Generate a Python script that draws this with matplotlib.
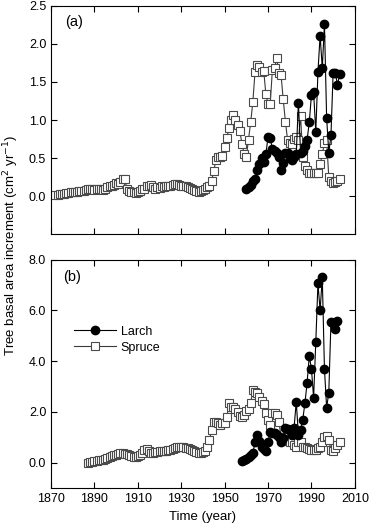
import matplotlib
matplotlib.use('Agg')
import matplotlib.pyplot as plt
import numpy as np

plt.rcParams['font.family'] = ['Liberation Sans', 'DejaVu Sans']
plt.rcParams['font.size'] = 9

# ---- panel (a) ----
spruce_a_start = 1872
spruce_a = [0.02, 0.02, 0.03, 0.03, 0.03, 0.04, 0.04, 0.05, 0.05, 0.05,
            0.06, 0.07, 0.07, 0.07, 0.08, 0.09, 0.10, 0.09, 0.08, 0.09,
            0.10, 0.09, 0.08, 0.10, 0.12, 0.14, 0.13, 0.15, 0.17, 0.16,
            0.19, 0.22, 0.22, 0.09, 0.07, 0.06, 0.05, 0.04, 0.05, 0.07,
            0.09, 0.10, 0.13, 0.14, 0.15, 0.12, 0.10, 0.12, 0.11, 0.13,
            0.12, 0.14, 0.13, 0.14, 0.15, 0.16, 0.16, 0.15, 0.14, 0.14,
            0.13, 0.12, 0.11, 0.10, 0.08, 0.07, 0.06, 0.07, 0.08, 0.10,
            0.12,  # 1942
            0.13, 0.20, 0.33, 0.48, 0.51, 0.52, 0.53, 0.65, 0.77, 0.89,
            1.00, 1.07, 1.00, 0.93, 0.85, 0.69, 0.55, 0.52, 0.74, 0.97,
            1.24, 1.63, 1.72, 1.70, 1.63, 1.65, 1.34, 1.21, 1.21, 1.66,
            1.68, 1.81, 1.62, 1.59, 1.27, 0.98, 0.74, 0.70, 0.68, 0.75,
            0.78, 0.74, 1.05, 0.52, 0.40, 0.35, 0.31, 0.30, 0.30, 0.31,
            0.31, 0.42, 0.55, 0.70, 0.74, 0.25, 0.20, 0.17, 0.18, 0.20,
            0.22]

larch_a_start = 1960
larch_a = [0.09, 0.12, 0.15, 0.20, 0.22, 0.35, 0.42, 0.50, 0.45, 0.55,
           0.78, 0.76, 0.62, 0.60, 0.57, 0.52, 0.34, 0.44, 0.57, 0.57,
           0.50, 0.47, 0.52, 0.55, 1.23, 0.57, 0.60, 0.66, 0.74, 0.97,
           1.33, 1.37, 0.84, 1.63, 2.11, 1.68, 2.26, 1.03, 0.57, 0.80,
           1.62, 1.62, 1.46, 1.60]

# ---- panel (b) ----
spruce_b_start = 1887
spruce_b = [0.00, 0.02, 0.03, 0.05, 0.07, 0.09, 0.10, 0.12, 0.15, 0.18,
            0.22, 0.26, 0.30, 0.32, 0.35, 0.37, 0.38, 0.36, 0.34, 0.30,
            0.26, 0.24, 0.24, 0.27, 0.32, 0.38, 0.50, 0.55, 0.45, 0.38,
            0.38, 0.42, 0.44, 0.46, 0.45, 0.46, 0.48, 0.50, 0.52, 0.55,
            0.58, 0.62, 0.64, 0.63, 0.62, 0.60, 0.58, 0.55, 0.50, 0.45,
            0.42, 0.40, 0.40, 0.42, 0.45, 0.63, 0.90, 1.30, 1.60, 1.62,
            1.55, 1.50, 1.55, 1.57, 1.80, 2.35, 2.20, 2.20, 2.10, 2.00,
            1.85, 1.80, 1.90, 2.05, 2.10, 2.35, 2.85, 2.80, 2.75, 2.60,
            2.45, 2.30, 1.97, 1.70, 1.50, 1.97, 1.95, 1.90, 1.60, 1.03,
            1.00, 0.90, 0.85, 0.80, 0.80, 0.70, 0.63, 0.83, 0.80, 0.63,
            0.62, 0.60, 0.55, 0.52, 0.50, 0.52, 0.60, 0.63, 0.83, 1.00,
            1.07, 0.90, 0.50, 0.45, 0.60, 0.70, 0.80]

larch_b_start = 1958
larch_b = [0.05, 0.10, 0.16, 0.22, 0.30, 0.38, 0.80, 1.10, 0.85, 0.63,
           0.55, 0.48, 0.83, 1.22, 1.18, 1.18, 1.10, 1.03, 0.83, 0.98,
           1.38, 1.34, 1.30, 1.10, 1.38, 2.40, 1.10, 1.30, 1.70, 2.35,
           3.15, 4.20, 3.70, 2.57, 4.74, 7.07, 6.00, 7.30, 3.70, 2.17,
           2.76, 5.56, 5.52, 5.28, 5.60]

xticks = [1870, 1890, 1910, 1930, 1950, 1970, 1990, 2010]

sq = dict(marker='s', ms=5.6, mfc='white', mec='#4a4a4a', mew=0.8,
          color='#3a3a3a', lw=0.8)
ci = dict(marker='o', ms=6, mfc='black', mec='black', color='black', lw=0.8)

fig = plt.figure(figsize=(3.7, 5.3), dpi=100)
ax1 = fig.add_axes([0.138, 0.558, 0.821, 0.431])
ax2 = fig.add_axes([0.138, 0.079, 0.821, 0.431])

yr = np.arange(spruce_a_start, spruce_a_start + len(spruce_a))
ax1.plot(yr, spruce_a, **sq)
yr = np.arange(larch_a_start, larch_a_start + len(larch_a))
ax1.plot(yr, larch_a, **ci)

yr = np.arange(spruce_b_start, spruce_b_start + len(spruce_b))
ax2.plot(yr, spruce_b, label='Spruce', **sq)
yr = np.arange(larch_b_start, larch_b_start + len(larch_b))
ax2.plot(yr, larch_b, label='Larch', **ci)

for ax in (ax1, ax2):
    ax.set_xlim(1870, 2010)
    ax.set_xticks(xticks)
    ax.tick_params(direction='in', top=True, right=True, length=4, width=0.8)
    for s in ax.spines.values():
        s.set_linewidth(0.8)

ax1.set_ylim(-0.5, 2.5)
ax1.set_yticks([0, 0.5, 1.0, 1.5, 2.0, 2.5])
ax1.set_yticklabels(['0.0', '0.5', '1.0', '1.5', '2.0', '2.5'])
ax1.set_xticklabels([])
ax1.text(0.045, 0.96, '(a)', transform=ax1.transAxes, fontsize=10.5, va='top')

ax2.set_ylim(-1, 8)
ax2.set_yticks([0, 2, 4, 6, 8])
ax2.set_yticklabels(['0.0', '2.0', '4.0', '6.0', '8.0'])
ax2.text(0.04, 0.955, '(b)', transform=ax2.transAxes, fontsize=10.5, va='top')
ax2.set_xlabel('Time (year)', fontsize=9.5)

h, l = ax2.get_legend_handles_labels()
ax2.legend(h[::-1], l[::-1], loc='upper left', bbox_to_anchor=(0.04, 0.76),
           frameon=False, handlelength=3.3, fontsize=9, labelspacing=0.3,
           handletextpad=0.4)

fig.text(0.03, 0.537, 'Tree basal area increment (cm$^2$ yr$^{-1}$)',
         rotation=90, ha='center', va='center', fontsize=9.5)

fig.savefig('out.png', dpi=100)
